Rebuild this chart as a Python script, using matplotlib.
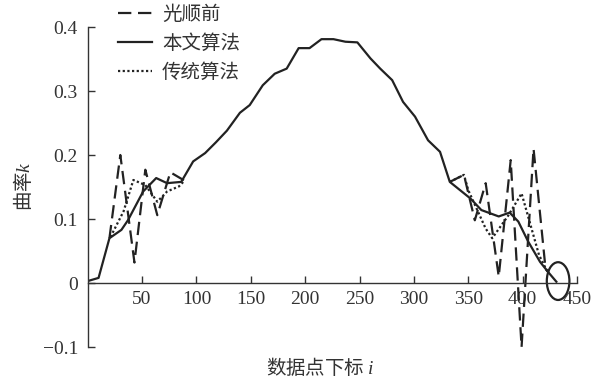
import matplotlib.pyplot as plt
from matplotlib.patches import Ellipse
from matplotlib.ticker import FuncFormatter

plt.rcParams['font.family'] = ['Liberation Serif', 'Noto Sans CJK SC']
plt.rcParams['mathtext.fontset'] = 'custom'
plt.rcParams['mathtext.it'] = 'Liberation Serif:italic'
plt.rcParams['mathtext.rm'] = 'Liberation Serif'
plt.rcParams['axes.unicode_minus'] = True

# 本文算法（整段曲线）
ours_x = [0, 10, 20, 31, 37, 51, 63, 73, 86, 97, 108, 118, 128, 140, 149, 161,
          172, 183, 194, 204, 215, 226, 237, 248, 260, 269, 280, 290, 301, 313,
          324, 333, 352, 362, 378, 388, 396, 405, 416, 424, 431]
ours_y = [0.003, 0.008, 0.07, 0.083, 0.098, 0.143, 0.164, 0.156, 0.158, 0.19,
          0.203, 0.22, 0.238, 0.266, 0.278, 0.309, 0.327, 0.335, 0.367, 0.367,
          0.381, 0.381, 0.377, 0.376, 0.351, 0.335, 0.317, 0.283, 0.26, 0.223,
          0.205, 0.158, 0.132, 0.114, 0.104, 0.11, 0.096, 0.065, 0.033, 0.016,
          0.002]

# 光顺前（两端）
raw_left_x = [20, 30, 43, 53, 64, 76, 89]
raw_left_y = [0.07, 0.2, 0.032, 0.177, 0.106, 0.173, 0.16]
raw_right_x = [333, 346, 356, 366, 378, 389, 399, 410, 421, 424]
raw_right_y = [0.158, 0.169, 0.098, 0.156, 0.01, 0.192, -0.1, 0.21, 0.023, 0.016]

# 传统算法（两端）
trad_left_x = [21, 33, 42, 53, 64, 73, 84, 89]
trad_left_y = [0.072, 0.112, 0.161, 0.153, 0.127, 0.143, 0.151, 0.16]
trad_right_x = [333, 346, 350, 366, 372, 387, 399, 415, 422, 424]
trad_right_y = [0.158, 0.169, 0.145, 0.085, 0.07, 0.106, 0.14, 0.044, 0.02, 0.016]

xticks = [50, 100, 150, 200, 250, 300, 350, 400, 450]
yticks = [-0.1, 0, 0.1, 0.2, 0.3, 0.4]

ink = '#222222'
txt = '#333333'
lw = 1.6

fig = plt.figure(figsize=(6.06, 3.82), dpi=100)
ax = fig.add_axes([0.1447, 0.0916, 0.8075, 0.8377])

ax.plot(raw_left_x, raw_left_y, color=ink, lw=lw, dashes=(6, 3), label='光顺前')
ax.plot(raw_right_x, raw_right_y, color=ink, lw=lw, dashes=(6, 3))
ax.plot(ours_x, ours_y, color=ink, lw=lw, label='本文算法')
ax.plot(trad_left_x, trad_left_y, color=ink, lw=lw, dashes=(1, 1.1), label='传统算法')
ax.plot(trad_right_x, trad_right_y, color=ink, lw=lw, dashes=(1, 1.1))

# 末端放大标记
ax.add_patch(Ellipse((432.6, 0.003), 20.8, 0.059, fill=False, ec=ink, lw=lw))

ax.set_xlim(0, 450)
ax.set_ylim(-0.1, 0.4)
ax.spines['top'].set_visible(False)
ax.spines['right'].set_visible(False)
ax.spines['bottom'].set_position(('data', 0))
for s in ('left', 'bottom'):
    ax.spines[s].set_color(txt)
    ax.spines[s].set_linewidth(1.0)

ax.set_xticks(xticks)
ax.set_yticks(yticks)
ax.yaxis.set_major_formatter(FuncFormatter(
    lambda v, p: '0' if abs(v) < 1e-9 else f'{v:.1f}'.replace('-', '\u2212')))
ax.tick_params(axis='both', direction='in', length=5, width=1, color=txt,
               labelsize=14, labelcolor=txt)
ax.tick_params(axis='x', pad=6)
ax.tick_params(axis='y', pad=7)

fig.text(0.038, 0.513, '曲率$k$', rotation=90, ha='center', va='center',
         fontsize=14, color=txt, family=['Noto Sans CJK SC'])
fig.text(0.528, 0.037, '数据点下标 $i$', ha='center', va='center',
         fontsize=14, color=txt, family=['Noto Sans CJK SC'])

leg = ax.legend(loc='upper left', bbox_to_anchor=(0.195, 0.99),
                bbox_transform=fig.transFigure, frameon=False,
                prop={'family': 'Noto Sans CJK SC', 'size': 14},
                handlelength=1.75, handletextpad=0.5, labelspacing=0.42,
                borderpad=0, borderaxespad=0)
for t in leg.get_texts():
    t.set_color(txt)

fig.savefig('out.png', dpi=100)
